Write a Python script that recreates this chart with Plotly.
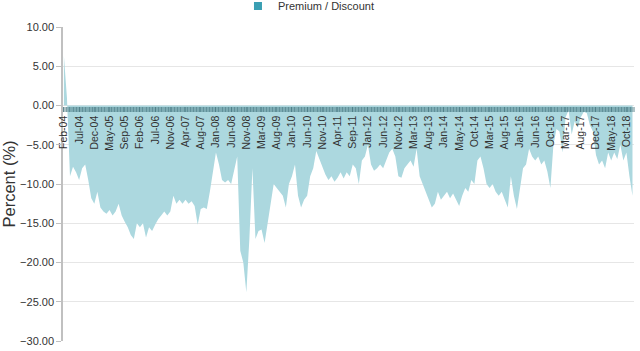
import plotly.graph_objects as go

# Category tick labels (one every 100 trading days)
tick_labels = [
    "Feb-04", "Jul-04", "Dec-04", "May-05", "Sep-05", "Feb-06", "Jul-06", "Nov-06",
    "Apr-07", "Aug-07", "Jan-08", "Jun-08", "Nov-08", "Mar-09", "Aug-09", "Jan-10",
    "Jun-10", "Nov-10", "Apr-11", "Sep-11", "Jan-12", "Jun-12", "Nov-12", "Mar-13",
    "Aug-13", "Jan-14", "May-14", "Oct-14", "Mar-15", "Aug-15", "Jan-16", "Jun-16",
    "Oct-16", "Mar-17", "Aug-17", "Dec-17", "May-18", "Oct-18",
]
LABEL_STEP = 100  # trading days between labels

# Premium / Discount (%) sampled every 20 trading days from Feb-04
SAMPLE_STEP = 20
premium_discount = [
    6.3, 1.0, -9.0, -7.8, -8.5, -9.5, -8.0, -7.5, -9.5, -11.8,
    -12.5, -11.0, -13.0, -13.5, -13.8, -13.3, -14.0, -13.5, -12.5, -14.0,
    -14.8, -15.5, -16.5, -17.0, -15.0, -15.5, -15.0, -16.8, -15.5, -16.0,
    -15.2, -14.5, -14.0, -13.5, -14.0, -13.5, -11.5, -12.5, -12.0, -12.5,
    -12.0, -12.5, -12.2, -12.8, -15.2, -13.2, -13.0, -13.2, -11.0, -8.5,
    -6.0, -7.5, -9.5, -9.8, -9.5, -10.0, -8.0, -6.5, -18.5, -20.0,
    -23.8, -17.0, -8.0, -17.0, -16.0, -15.8, -17.5, -15.0, -12.5, -10.0,
    -10.5, -11.0, -11.5, -13.0, -10.0, -9.0, -7.5, -11.5, -13.0, -12.0,
    -11.5, -9.0, -8.0, -5.8, -6.8, -8.0, -8.8, -9.5, -9.0, -9.7,
    -9.2, -8.5, -9.3, -8.5, -9.0, -7.5, -8.0, -10.0, -7.0, -6.5,
    -5.0, -7.5, -8.3, -8.0, -7.5, -8.0, -7.0, -6.0, -5.5, -6.5,
    -9.0, -9.2, -8.0, -7.5, -7.0, -7.8, -5.5, -9.0, -10.0, -11.0,
    -12.0, -13.0, -12.5, -11.0, -12.0, -11.5, -11.0, -11.8, -11.2, -12.0,
    -12.8, -11.5, -10.5, -11.0, -9.5, -10.0, -7.0, -6.5, -8.0, -10.0,
    -10.5, -10.0, -11.0, -11.5, -11.0, -12.0, -13.0, -9.0, -11.5, -13.2,
    -10.5, -8.0, -7.5, -5.5, -6.5, -7.0, -6.5, -7.5, -7.0, -8.4,
    -10.5, -5.0, -3.0, -3.3, -6.0, -1.5, -0.6, -3.7, -2.0, -2.8,
    -1.5, -0.8, -1.0, -2.5, -3.3, -6.3, -7.5, -7.0, -8.0, -6.0,
    -7.0, -6.0, -6.8, -5.0, -7.0, -6.0, -9.0, -11.5,
]

x_days = [i * SAMPLE_STEP for i in range(len(premium_discount))]
tick_vals = [i * LABEL_STEP for i in range(len(tick_labels))]

FONT = "Liberation Sans, Arial, sans-serif"
TEXT = "#333333"
BAND = "rgba(60,110,118,0.42)"

fig = go.Figure()
fig.add_trace(go.Scatter(
    x=x_days, y=premium_discount, mode="lines", fill="tozeroy",
    line=dict(width=0, color="#3b9fb3"), fillcolor="rgb(172,216,223)",
    showlegend=False, hoverinfo="skip",
))
fig.add_trace(go.Scatter(
    x=[None], y=[None], mode="markers", name="Premium / Discount",
    marker=dict(symbol="square", size=8, color="#3a9fb3"),
))

fig.update_layout(
    width=640, height=351,
    margin=dict(l=63, r=6, t=27, b=10, pad=0, autoexpand=False),
    paper_bgcolor="white", plot_bgcolor="white",
    font=dict(family=FONT, color=TEXT, size=11),
    legend=dict(
        orientation="h", x=0.482, xanchor="center", xref="container",
        y=0.983, yanchor="middle", yref="container",
        font=dict(size=11, color=TEXT), itemwidth=30,
        bgcolor="rgba(0,0,0,0)",
    ),
    xaxis=dict(
        range=[-6, 3750], anchor="free", position=0.75,
        tickmode="array", tickvals=tick_vals, ticktext=tick_labels,
        tickangle=-90, tickfont=dict(size=10.5, color=TEXT),
        ticks="outside", ticklen=5, tickwidth=1, tickcolor=BAND,
        minor=dict(tick0=0, dtick=5, ticks="outside", ticklen=5, tickwidth=1,
                   tickcolor=BAND, showgrid=False),
        showgrid=False, zeroline=False, showline=False,
    ),
    yaxis=dict(
        range=[-30, 10], tick0=0, dtick=5, tickformat=".2f",
        tickfont=dict(size=11, color=TEXT),
        showgrid=True, gridcolor="#e6e6e6", gridwidth=1,
        zeroline=False, showline=True, linecolor="#c0c0c0", linewidth=1.5,
        ticks="outside", ticklen=5, tickcolor="#c0c0c0",
        title=dict(text="Percent (%)", font=dict(size=16.5, color=TEXT), standoff=6),
    ),
)

fig.write_html("out.html")
